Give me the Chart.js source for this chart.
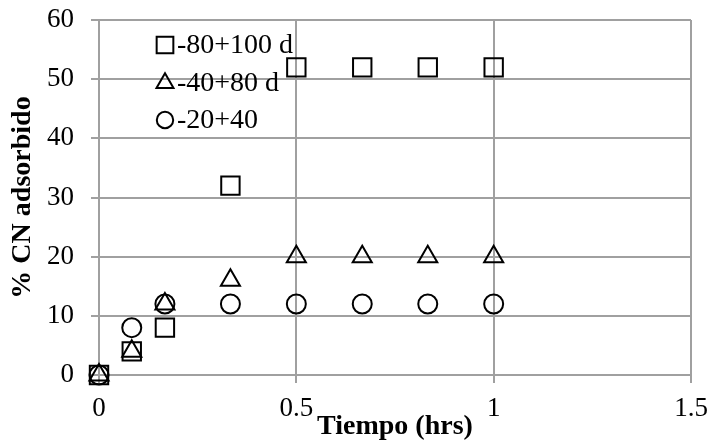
<!DOCTYPE html>
<html><head><meta charset="utf-8">
<script src="https://cdn.jsdelivr.net/npm/chart.js@4/dist/chart.umd.min.js"></script>
<style>html,body{margin:0;padding:0;background:#fff}</style>
</head><body>
<canvas id="c" width="710" height="446" style="display:block;width:710px;height:446px"></canvas>
<script>
const tiempo = [0, 0.083, 0.167, 0.333, 0.5, 0.667, 0.833, 1];
const serieLabels = ['-80+100 d', '-40+80 d', '-20+40'];
const serie80_100 = [0, 4, 8, 32, 52, 52, 52, 52];
const serie40_80 = [0, 4, 12, 16, 20, 20, 20, 20];
const serie20_40 = [0, 8, 12, 12, 12, 12, 12, 12];
const xTickValues = [0, 0.5, 1, 1.5];
const yTickValues = [0, 10, 20, 30, 40, 50, 60];
const xTitle = 'Tiempo (hrs)';
const yTitle = '% CN adsorbido';

const FONT = "'Liberation Serif', 'Times New Roman', serif";
const GRID = '#a0a0a0';

function pts(ys){ return tiempo.map((x,i)=>({x:x, y:ys[i]})); }

const styles = [
  {pointStyle:'rect', radius:13, legendRadius:11.8},
  {pointStyle:'triangle', radius:11, legendRadius:9.8},
  {pointStyle:'circle', radius:9.5, legendRadius:8.2}
];

function drawMarker(ctx, style, r, x, y){
  ctx.beginPath();
  if (style === 'rect') {
    const s = Math.SQRT1_2 * r;
    ctx.rect(x - s, y - s, 2*s, 2*s);
  } else if (style === 'triangle') {
    let a = 0;
    ctx.moveTo(x + Math.sin(a)*r, y - Math.cos(a)*r);
    a += 2*Math.PI/3;
    ctx.lineTo(x + Math.sin(a)*r, y - Math.cos(a)*r);
    a += 2*Math.PI/3;
    ctx.lineTo(x + Math.sin(a)*r, y - Math.cos(a)*r);
    ctx.closePath();
  } else {
    ctx.arc(x, y, r, 0, Math.PI*2);
  }
  ctx.stroke();
}

const legendPlugin = {
  id: 'inLegend',
  afterDatasetsDraw(chart){
    const ctx = chart.ctx;
    const ca = chart.chartArea;
    const mx = ca.left + 66;
    const rows = [25, 63, 100];
    ctx.save();
    ctx.strokeStyle = '#000';
    ctx.lineWidth = 2;
    ctx.fillStyle = '#000';
    ctx.font = "28px " + FONT;
    ctx.textBaseline = 'middle';
    ctx.textAlign = 'left';
    chart.data.datasets.forEach((ds, i) => {
      const y = ca.top + rows[i];
      drawMarker(ctx, styles[i].pointStyle, styles[i].legendRadius, mx, y);
      ctx.fillText(ds.label, mx + 12, y + 1);
    });
    ctx.restore();
  }
};

const datasets = [serie80_100, serie40_80, serie20_40].map((ys, i) => ({
  label: serieLabels[i],
  data: pts(ys),
  showLine: false,
  pointStyle: styles[i].pointStyle,
  pointRadius: styles[i].radius,
  pointHoverRadius: styles[i].radius,
  pointBorderColor: '#000',
  pointBackgroundColor: 'rgba(0,0,0,0)',
  pointBorderWidth: 2,
  borderColor: '#000',
  backgroundColor: 'rgba(0,0,0,0)',
  clip: false
}));

new Chart(document.getElementById('c'), {
  type: 'scatter',
  data: { datasets },
  options: {
    responsive: false,
    animation: false,
    events: [],
    layout: { padding: { top: 20, right: 19, left: 0, bottom: 0 } },
    plugins: { legend: { display: false }, tooltip: { enabled: false } },
    scales: {
      x: {
        type: 'linear', min: 0, max: 1.5,
        afterBuildTicks: s => { s.ticks = xTickValues.map(v => ({value: v})); },
        afterFit: s => { s.height = 71; s.paddingLeft = 0; s.paddingRight = 0; },
        ticks: { color: '#000', font: { family: FONT, size: 27 }, padding: 10, maxRotation: 0,
                 callback: v => String(v) },
        grid: { color: GRID, lineWidth: 2, tickLength: 8, drawTicks: true },
        border: { color: GRID, width: 2 },
        title: { display: true, text: xTitle, color: '#000',
                 font: { family: FONT, size: 28, weight: 'bold' }, padding: { top: 0, bottom: 2 } }
      },
      y: {
        type: 'linear', min: 0, max: 60,
        afterBuildTicks: s => { s.ticks = yTickValues.map(v => ({value: v})); },
        afterFit: s => { s.width = 99; s.paddingTop = 0; s.paddingBottom = 0; },
        ticks: { color: '#000', font: { family: FONT, size: 27 }, padding: 17,
                 callback: v => String(v) },
        grid: { color: GRID, lineWidth: 2, tickLength: 8, drawTicks: true },
        border: { color: GRID, width: 2 },
        title: { display: true, text: yTitle, color: '#000',
                 font: { family: FONT, size: 28, weight: 'bold' }, padding: { top: 6, bottom: 0 } }
      }
    }
  },
  plugins: [legendPlugin]
});
</script>
</body></html>
